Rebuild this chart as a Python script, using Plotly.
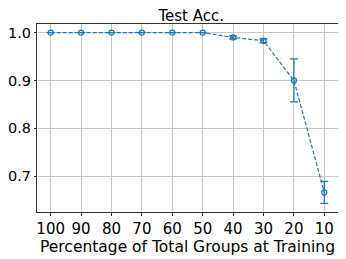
import plotly.graph_objects as go

pct_labels = ["100", "90", "80", "70", "60", "50", "40", "30", "20", "10"]
acc = [1.0, 1.0, 1.0, 1.0, 1.0, 1.0, 0.990, 0.983, 0.900, 0.666]
err = [0.0, 0.0, 0.0, 0.0, 0.0, 0.0, 0.003, 0.004, 0.045, 0.023]

xs = list(range(len(pct_labels)))
blue = "#1f77b4"

fig = go.Figure()
fig.add_trace(go.Scatter(
    x=xs, y=acc,
    mode="lines+markers",
    line=dict(color=blue, width=1.2, dash="4px,2px"),
    marker=dict(symbol="circle-open", size=5, color=blue, line=dict(width=1.3, color=blue)),
    error_y=dict(type="data", array=err, visible=True, color=blue, thickness=1.3, width=4),
    showlegend=False,
))

font = "DejaVu Sans, Arial, sans-serif"
fig.update_layout(
    width=338, height=251,
    margin=dict(l=29, r=8, t=16, b=47, autoexpand=False),
    paper_bgcolor="white", plot_bgcolor="white",
    title=dict(text="Test Acc.", x=0.542, xanchor="center", y=0.971, yanchor="middle",
               font=dict(family=font, size=15, color="black")),
    font=dict(family=font, color="black"),
)
fig.update_xaxes(
    range=[-0.45, 9.45], tickvals=xs, ticktext=pct_labels, automargin=False,
    tickfont=dict(size=15), showgrid=True, gridcolor="#c8c8c8", gridwidth=1,
    showline=True, linecolor="#333333", linewidth=1, mirror=True,
    ticks="outside", ticklen=3, tickcolor="#333333", zeroline=False,
    title=dict(text="Percentage of Total Groups at Training", font=dict(size=15.5), standoff=0),
)
fig.update_yaxes(
    range=[0.625, 1.018], tickvals=[0.7, 0.8, 0.9, 1.0], ticktext=["0.7", "0.8", "0.9", "1.0"],
    automargin=False,
    tickfont=dict(size=14.5), showgrid=True, gridcolor="#c8c8c8", gridwidth=1,
    showline=True, linecolor="#333333", linewidth=1, mirror=True,
    ticks="outside", ticklen=2, tickcolor="#333333", zeroline=False,
)

fig.write_html("out.html")
